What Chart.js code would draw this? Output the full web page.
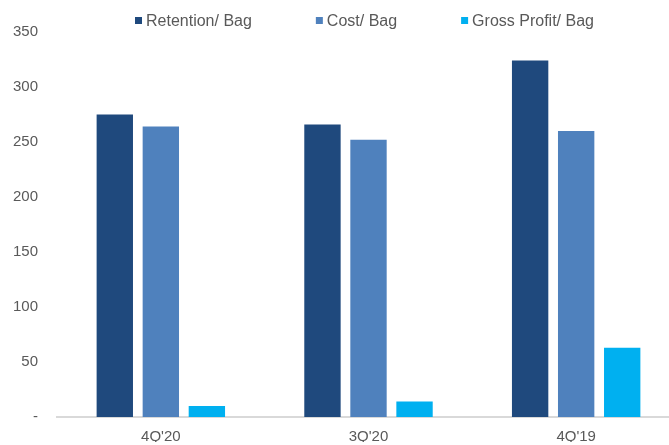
<!DOCTYPE html>
<html>
<head>
<meta charset="utf-8">
<script src="https://cdn.jsdelivr.net/npm/chart.js@4.4.0/dist/chart.umd.min.js"></script>
<style>
  html, body { margin: 0; padding: 0; background: #fff; overflow: hidden; }
  canvas { display: block; }
</style>
</head>
<body>
<canvas id="grafico" width="684" height="445"></canvas>
<script>
'use strict'

const quarters = ["4Q'20", "3Q'20", "4Q'19"];
const retention = [275, 266, 324];
const cost = [264, 252, 260];
const grossProfit = [10, 14, 63];
const yTicks = [0, 50, 100, 150, 200, 250, 300, 350];

const textColor = '#595959';
const fontFamily = '"Liberation Sans", Arial, sans-serif';

// legend drawn by hand: small squares, spread over the plot area
const legendPlugin = {
  id: 'squareLegend',
  afterDraw(chart) {
    const ctx = chart.ctx;
    const box = 7, textGap = 4, itemGap = 64, baseline = 26;
    ctx.save();
    ctx.font = '16px ' + fontFamily;
    ctx.textBaseline = 'alphabetic';
    let x = chart.chartArea.left + 78;
    chart.data.datasets.forEach(ds => {
      const w = ctx.measureText(ds.label).width;
      ctx.fillStyle = ds.backgroundColor;
      ctx.fillRect(x, baseline - 9, box, box);
      ctx.fillStyle = textColor;
      ctx.fillText(ds.label, x + box + textGap, baseline);
      x += box + textGap + w + itemGap;
    });
    ctx.restore();
  }
};

const data = {
  labels: quarters,
  datasets: [
    { label: 'Retention/ Bag', data: retention, backgroundColor: '#1F497D' },
    { label: 'Cost/ Bag', data: cost, backgroundColor: '#4F81BD' },
    { label: 'Gross Profit/ Bag', data: grossProfit, backgroundColor: '#00B0F0' }
  ]
};

const config = {
  type: 'bar',
  data: data,
  options: {
    responsive: false,
    animation: false,
    categoryPercentage: 0.665,
    barPercentage: 0.79,
    layout: { padding: { top: 32, right: 4, left: 0, bottom: 0 } },
    plugins: {
      legend: { display: false },
      tooltip: { enabled: false }
    },
    scales: {
      x: {
        grid: { display: false, drawTicks: false },
        border: { display: true, color: '#D9D9D9', width: 2 },
        ticks: { color: textColor, font: { family: fontFamily, size: 15 }, padding: 11 },
        afterFit: (s) => { s.height = 25; }
      },
      y: {
        min: 0,
        max: 350,
        afterBuildTicks: (s) => { s.ticks = yTicks.map(v => ({ value: v })); },
        grid: { display: false, drawTicks: false },
        border: { display: false },
        ticks: {
          color: textColor,
          font: { family: fontFamily, size: 15 },
          padding: 19,
          callback: (v) => v === 0 ? '-' : v
        },
        afterFit: (s) => { s.width = 57; }
      }
    }
  },
  plugins: [legendPlugin]
};

const grafico = new Chart(document.querySelector('#grafico'), config);
</script>
</body>
</html>
